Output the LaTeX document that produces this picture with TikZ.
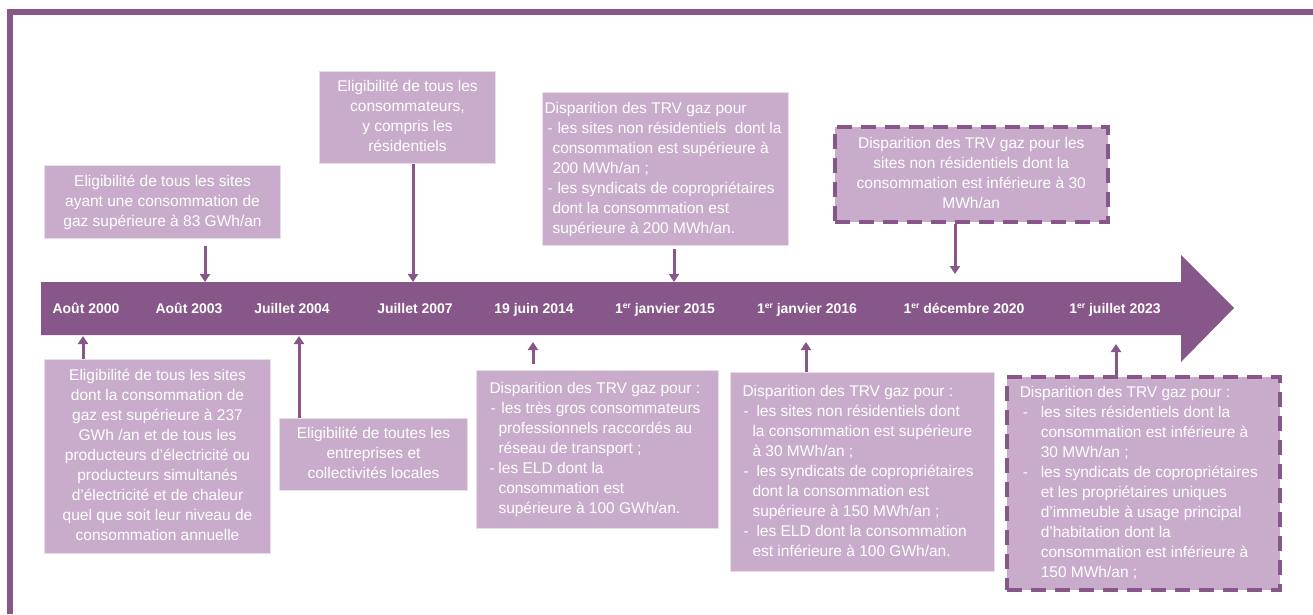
\documentclass[tikz,border=0pt]{standalone}
\usepackage{fontspec}
\setmainfont{Liberation Sans}
\usetikzlibrary{arrows.meta}
\definecolor{purp}{RGB}{135,87,137}
\definecolor{boxc}{RGB}{201,172,203}
\definecolor{boxedge}{RGB}{232,222,233}
\newcommand\lb[3]{\makebox[#1pt][l]{\hspace*{#2pt}-}#3}
\newcommand\ct[2]{\hspace*{#1pt}#2}
\newcommand\ordsup[1]{\raisebox{4.5pt}{\fontsize{8.5}{9}\selectfont #1}}
\begin{document}
\begin{tikzpicture}[x=1pt,y=-1pt,
  box/.style={fill=boxc, draw=boxedge, line width=1pt, inner sep=0pt, anchor=north west, text=white, font=\fontsize{15.5}{20}\selectfont},
  dbox/.style={box, draw=purp, line width=3.5pt, dash pattern=on 15pt off 9pt},
  datelbl/.style={text=white, font=\bfseries\fontsize{14}{16}\selectfont, inner sep=0pt, anchor=base},
  conn/.style={draw=purp, line width=3pt, -{Triangle[width=10pt,length=8pt]}},
]
\useasboundingbox (0,0) rectangle (1313,614);
\fill[white] (0,0) rectangle (1313,614);
% frame
\fill[purp] (7,9) rectangle (1313,15);
\fill[purp] (7,9) rectangle (13,614);
% timeline arrow
\fill[purp] (41,282) -- (1181,282) -- (1181,255) -- (1234,308) -- (1181,362) -- (1181,335) -- (41,335) -- cycle;
% dates
\node[datelbl] (d1) at (86,313) {Août 2000};
\node[datelbl] (d2) at (189,313) {Août 2003};
\node[datelbl] (d3) at (292,313) {Juillet 2004};
\node[datelbl] (d4) at (415,313) {Juillet 2007};
\node[datelbl] (d5) at (534,313) {19 juin 2014};
\node[datelbl] (d6) at (665,313) {1\ordsup{er} janvier 2015};
\node[datelbl] (d7) at (807,313) {1\ordsup{er} janvier 2016};
\node[datelbl] (d8) at (964,313) {1\ordsup{er} décembre 2020};
\node[datelbl] (d9) at (1115,313) {1\ordsup{er} juillet 2023};
% top boxes
\node[box, minimum width=236pt, minimum height=73pt] (b1) at (44,165)
 {\begin{tabular}{@{}c@{}}Eligibilité de tous les sites\\ayant une consommation de\\gaz supérieure à 83 GWh/an\end{tabular}};
\node[box, minimum width=176pt, minimum height=92pt] (b2) at (319,71)
 {\begin{tabular}{@{}c@{}}Eligibilité de tous les\\consommateurs,\\y compris les\\résidentiels\end{tabular}};
\node[box, minimum width=246pt, minimum height=153pt] (b3) at (542,92)
 {\makebox[246pt][l]{\hspace*{2pt}\begin{tabular}{@{}l@{}}Disparition des TRV gaz pour\\
 \lb{13}{3}{les sites non résidentiels\ \ dont la}\\
 \ct{8}{consommation est supérieure à}\\
 \ct{8}{200 MWh/an ;}\\
 \lb{13}{3}{les syndicats de copropriétaires}\\
 \ct{8}{dont la consommation est}\\
 \ct{8}{supérieure à 200 MWh/an.}\end{tabular}}};
\node[dbox, minimum width=273pt, minimum height=95pt] (b4) at (833,125)
 {\begin{tabular}{@{}c@{}}Disparition des TRV gaz pour les\\sites non résidentiels dont la\\consommation est inférieure à 30\\MWh/an\end{tabular}};
% bottom boxes
\node[box, minimum width=226pt, minimum height=194pt] (b5) at (44,359)
 {\begin{tabular}{@{}c@{}}Eligibilité de tous les sites\\dont la consommation de\\gaz est supérieure à 237\\GWh /an et de tous les\\producteurs d’électricité ou\\producteurs simultanés\\d’électricité et de chaleur\\quel que soit leur niveau de\\consommation annuelle\end{tabular}};
\node[box, minimum width=188pt, minimum height=72pt] (b6) at (279,418)
 {\begin{tabular}{@{}c@{}}Eligibilité de toutes les\\entreprises et\\collectivités locales\end{tabular}};
\node[box, minimum width=242pt, minimum height=158pt] (b7) at (476,370)
 {\makebox[242pt][l]{\hspace*{13pt}\begin{tabular}{@{}l@{}}Disparition des TRV gaz pour :\\
 \lb{12}{1}{les très gros consommateurs}\\
 \ct{9}{professionnels raccordés au}\\
 \ct{9}{réseau de transport ;}\\
 \lb{9}{0}{les ELD dont la}\\
 \ct{9}{consommation est}\\
 \ct{9}{supérieure à 100 GWh/an.}\end{tabular}}};
\node[box, minimum width=264pt, minimum height=199pt] (b8) at (730,372)
 {\makebox[264pt][l]{\hspace*{12pt}\begin{tabular}{@{}l@{}}Disparition des TRV gaz pour :\\
 \lb{14}{1}{les sites non résidentiels dont}\\
 \ct{10}{la consommation est supérieure}\\
 \ct{10}{à 30 MWh/an ;}\\
 \lb{14}{1}{les syndicats de copropriétaires}\\
 \ct{10}{dont la consommation est}\\
 \ct{10}{supérieure à 150 MWh/an ;}\\
 \lb{14}{1}{les ELD dont la consommation}\\
 \ct{10}{est inférieure à 100 GWh/an.}\end{tabular}}};
\node[dbox, minimum width=273pt, minimum height=213pt] (b9) at (1005,375)
 {\makebox[273pt][l]{\hspace*{13pt}\begin{tabular}{@{}l@{}}Disparition des TRV gaz pour :\\
 \lb{21}{3}{les sites résidentiels dont la}\\
 \ct{21}{consommation est inférieure à}\\
 \ct{21}{30 MWh/an ;}\\
 \lb{21}{3}{les syndicats de copropriétaires}\\
 \ct{21}{et les propriétaires uniques}\\
 \ct{21}{d’immeuble à usage principal}\\
 \ct{21}{d’habitation dont la}\\
 \ct{21}{consommation est inférieure à}\\
 \ct{21}{150 MWh/an ;}\end{tabular}}};
% connectors
\coordinate (s1) at (205,246);
\coordinate (t1) at (205,282);
\coordinate (t2) at (413,282);
\coordinate (s3) at (674,249);
\coordinate (t3) at (674,282);
\coordinate (t4) at (955,274);
\coordinate (t5) at (83,336);
\coordinate (t6) at (299,336);
\coordinate (s7) at (533,364);
\coordinate (t7) at (533,342);
\coordinate (t8) at (806,342);
\coordinate (t9) at (1116,344);
\draw[conn] (s1) -- (t1);
\draw[conn] (b2.south -| t2) -- (t2);
\draw[conn] (s3) -- (t3);
\draw[conn] (b4.south -| t4) -- (t4);
\draw[conn] (b5.north -| t5) -- (t5);
\draw[conn] (b6.north -| t6) -- (t6);
\draw[conn] (s7) -- (t7);
\draw[conn] (b8.north -| t8) -- (t8);
\draw[conn] (b9.north -| t9) -- (t9);
\end{tikzpicture}
\end{document}
